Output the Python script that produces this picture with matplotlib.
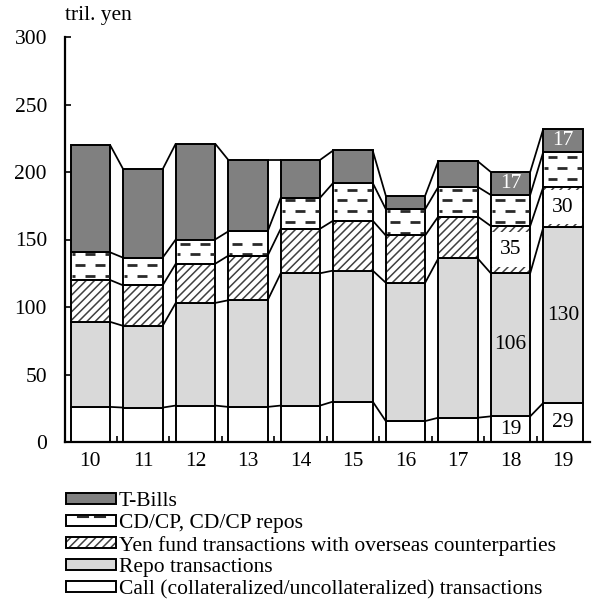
import numpy as np
import matplotlib
matplotlib.use("Agg")
import matplotlib.pyplot as plt
from matplotlib.patches import Rectangle
from matplotlib.lines import Line2D
from matplotlib.collections import LineCollection
from matplotlib.legend_handler import HandlerBase

plt.rcParams["font.family"] = ["Liberation Serif", "DejaVu Serif"]
plt.rcParams["hatch.linewidth"] = 1.1

# --- data (tril. yen), fiscal years 2010-2019 -------------------------
years = ["10", "11", "12", "13", "14", "15", "16", "17", "18", "19"]
call = [26, 25.5, 27, 26, 27, 30, 15.5, 18, 19, 29]
repo = [63, 60.5, 76, 79, 98, 97, 102.5, 118, 106, 130]
yen_overseas = [31, 30, 29, 33, 33, 37, 35, 31, 35, 30]
cd_cp = [20.5, 20.5, 18, 18, 23, 28, 19.5, 22, 23, 26]
tbills = [79.5, 65.5, 71, 53, 28, 24, 10, 19, 17, 17]
labelled_years = ["18", "19"]

series_names = [
    "Call (collateralized/uncollateralized) transactions",
    "Repo transactions",
    "Yen fund transactions with overseas counterparties",
    "CD/CP, CD/CP repos",
    "T-Bills",
]

FS = 15.5
LW = 1.4
HATCH_COLOR = "#404040"
DASH_COLOR = "#2a2a2a"
styles = [
    dict(fc="white", hatch=None, dashed=False),
    dict(fc="#d9d9d9", hatch=None, dashed=False),
    dict(fc="white", hatch="////", dashed=False),
    dict(fc="white", hatch=None, dashed=True),
    dict(fc="#808080", hatch=None, dashed=False),
]


def draw_dashes(ax, left, right, y0, y1):
    """Staggered short dashes used as texture for the CD/CP segment."""
    gap, period, dash = 8.0, 0.38, 0.19
    segs = []
    k = int(np.ceil((y0 + 1.0 - 3.0) / gap))
    while 3.0 + k * gap < y1 - 1.0:
        y = 3.0 + k * gap
        off = 0.08 if k % 2 == 0 else 0.27
        s = left + off - period
        while s < right:
            a, b = max(s, left + 0.02), min(s + dash, right - 0.02)
            if b - a > 0.03:
                segs.append([(a, y), (b, y)])
            s += period
        k += 1
    ax.add_collection(LineCollection(segs, colors=DASH_COLOR, linewidths=2.0,
                                     capstyle="butt", zorder=3))


class BoxHandler(HandlerBase):
    def create_artists(self, legend, orig, xd, yd, width, height, fontsize, trans):
        x0, y0 = -xd, -yd
        fill = Rectangle((x0, y0), width, height, facecolor=orig.get_facecolor(),
                         hatch=orig.get_hatch(), edgecolor=HATCH_COLOR,
                         linewidth=0, transform=trans)
        edge = Rectangle((x0, y0), width, height, facecolor="none",
                         edgecolor="black", linewidth=LW, transform=trans)
        arts = [fill, edge]
        if getattr(orig, "dashed", False):
            for a, b in [(0.24, 0.45), (0.59, 0.79)]:
                arts.append(Line2D([x0 + a * width, x0 + b * width],
                                   [y0 + 0.75 * height] * 2, color=DASH_COLOR,
                                   lw=1.5, transform=trans))
        return arts


fig = plt.figure(figsize=(5.92, 6.12), dpi=100)
ax = fig.add_axes([65 / 592, 1 - 442 / 612, 525 / 592, 405 / 612])

x = np.arange(len(years))
w = 0.75
data = [call, repo, yen_overseas, cd_cp, tbills]
bottom = np.zeros(len(years))
tops = []
for vals, st in zip(data, styles):
    vals = np.asarray(vals, dtype=float)
    if st["hatch"]:
        ax.bar(x, vals, w, bottom=bottom, facecolor=st["fc"], edgecolor=HATCH_COLOR,
               hatch=st["hatch"], linewidth=0, zorder=2)
        ax.bar(x, vals, w, bottom=bottom, facecolor="none", edgecolor="black",
               linewidth=LW, zorder=4)
    else:
        ax.bar(x, vals, w, bottom=bottom, facecolor=st["fc"], edgecolor="black",
               linewidth=LW, zorder=2)
    if st["dashed"]:
        for i in range(len(years)):
            draw_dashes(ax, x[i] - w / 2, x[i] + w / 2, bottom[i], bottom[i] + vals[i])
    tops.append(bottom + vals)
    bottom = bottom + vals

# connecting lines between neighbouring bars
for top in tops:
    segs = [[(x[i] + w / 2, top[i]), (x[i + 1] - w / 2, top[i + 1])]
            for i in range(len(years) - 1)]
    ax.add_collection(LineCollection(segs, colors="black", linewidths=LW * 0.9,
                                     zorder=3))

# value labels on the last two years
for yr in labelled_years:
    i = years.index(yr)
    base = 0.0
    for j, vals in enumerate(data):
        v = vals[i]
        if j == 2:
            ax.text(x[i], base + v / 2, f"{v:g}", ha="center", va="center",
                    fontsize=FS, zorder=5,
                    bbox=dict(boxstyle="square,pad=0.36", fc="white", ec="none"))
        elif j == 4:
            ax.text(x[i], base + v / 2, f"{v:g}", ha="center", va="center",
                    fontsize=FS, color="white", zorder=5)
        elif j != 3:
            ax.text(x[i], base + v / 2, f"{v:g}", ha="center", va="center",
                    fontsize=FS, zorder=5)
        base += v

ax.set_xlim(-0.484, 9.514)
ax.set_ylim(0, 300)
ax.set_yticks(np.arange(0, 301, 50))
ax.set_xticks(x)
ax.set_xticklabels(years)
ax.set_xticks(x[:-1] + 0.5, minor=True)
ax.tick_params(axis="y", direction="in", length=4, width=1.2, pad=13, labelsize=FS)
ax.tick_params(axis="x", which="major", length=0, pad=7, labelsize=FS)
ax.tick_params(axis="x", which="minor", direction="in", length=4, width=1.2)
for s in ["top", "right"]:
    ax.spines[s].set_visible(False)
for s in ["left", "bottom"]:
    ax.spines[s].set_linewidth(1.6)
    ax.spines[s].set_zorder(6)

ax.annotate("tril. yen", xy=(0, 1), xycoords="axes fraction", xytext=(0, 12),
            textcoords="offset points", ha="left", va="baseline", fontsize=FS)

# legend (top entry first)
handles = []
for st in styles[::-1]:
    h = Rectangle((0, 0), 1, 1, facecolor=st["fc"], hatch=st["hatch"])
    h.dashed = st["dashed"]
    handles.append(h)
fig.legend(handles, series_names[::-1], loc="upper left",
           bbox_to_anchor=(66 / 592, 1 - 492 / 612), frameon=False,
           borderpad=0, borderaxespad=0, handlelength=2.3, handleheight=0.42,
           handletextpad=0.15, labelspacing=0.13, fontsize=FS,
           handler_map={Rectangle: BoxHandler()})

fig.savefig("out.png", dpi=100)
